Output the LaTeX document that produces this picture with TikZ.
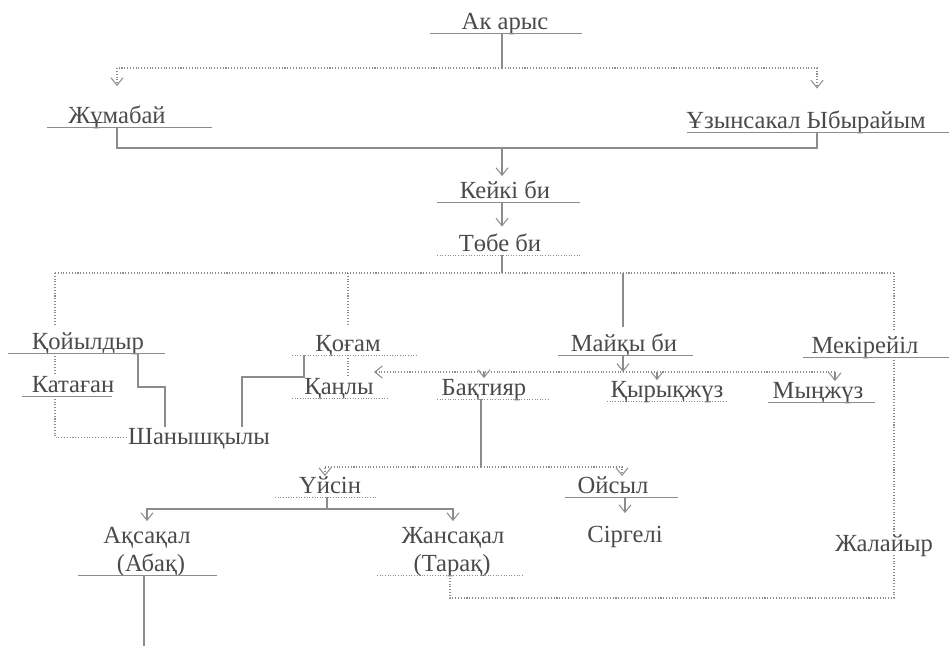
\documentclass[tikz,border=0pt]{standalone}
\usepackage{fontspec}
\setmainfont{Liberation Serif}
\usetikzlibrary{arrows.meta,calc}
\definecolor{ink}{HTML}{4A4A4A}
\definecolor{rule}{HTML}{8C8C8C}
\begin{document}
\begin{tikzpicture}[x=0.02cm, y=-0.02cm,
    clan/.style={anchor=south, inner sep=0pt, text height=9.5pt, text depth=2pt, text=ink, font=\fontsize{14}{17}\selectfont},
    ln/.style={draw=rule, line width=0.6pt},
    dt/.style={draw=rule, line width=0.6pt, densely dotted},
    ul/.style={draw=rule, line width=0.5pt},
    >={Straight Barb[length=1.5mm, width=2.4mm]}]
    \useasboundingbox (0,0) rectangle (949,646);

    \node[clan] (akarys) at (505,33) {Ак арыс};
    \node[clan] (jumabai) at (117,127) {Жұмабай};
    \node[clan] (uzyn) at (806,132) {Ұзынсакал Ыбырайым};
    \node[clan] (keiki) at (505,202) {Кейкі би};
    \node[clan] (tobe) at (500,255) {Төбе би};
    \node[clan] (koiyl) at (88,353) {Қойылдыр};
    \node[clan] (kogam) at (348,355) {Қоғам};
    \node[clan] (maiky) at (624,355) {Майқы би};
    \node[clan] (mekir) at (865,357) {Мекірейіл};
    \node[clan] (katagan) at (73,396) {Катаған};
    \node[clan] (kanly) at (339,398) {Қаңлы};
    \node[clan] (bakt) at (484,399) {Бақтияр};
    \node[clan] (kyryk) at (667,401) {Қырықжүз};
    \node[clan] (mynjuz) at (818,402) {Мыңжүз};
    \node[clan] (shany) at (199,448) {Шанышқылы};
    \node[clan] (uisin) at (330,497) {Үйсін};
    \node[clan] (oisyl) at (613,497) {Ойсыл};
    \node[clan] (aksakal) at (147,547) {Ақсақал};
    \node[clan] (abak) at (151,575) {(Абақ)};
    \node[clan] (jansakal) at (453,547) {Жансақал};
    \node[clan] (tarak) at (452,575) {(Тарақ)};
    \node[clan] (sirgeli) at (625,546) {Сіргелі};
    \node[clan] (jalaiyr) at (884,555) {Жалайыр};

    \draw[ul] ($(akarys.south)+(-75,0)$) -- +(152,0);
    \draw[ul] ($(jumabai.south)+(-70,0)$) -- +(165,0);
    \draw[ul] ($(uzyn.south)+(-119,0)$) -- +(262,0);
    \draw[ul] ($(keiki.south)+(-68,0)$) -- +(143,0);
    \draw[ul, densely dotted] ($(tobe.south)+(-63,0)$) -- +(143,0);
    \draw[ul] ($(koiyl.south)+(-80,0)$) -- +(157,0);
    \draw[ul, densely dotted] ($(kogam.south)+(-56,0)$) -- +(124,0);
    \draw[ul] ($(maiky.south)+(-66,0)$) -- +(135,0);
    \draw[ul] ($(mekir.south)+(-62,0)$) -- +(146,0);
    \draw[ul] ($(katagan.south)+(-51,0)$) -- +(90,0);
    \draw[ul, densely dotted] ($(kanly.south)+(-47,0)$) -- +(95,0);
    \draw[ul, densely dotted] ($(bakt.south)+(-47,0)$) -- +(111,0);
    \draw[ul, densely dotted] ($(kyryk.south)+(-60,0)$) -- +(120,0);
    \draw[ul] ($(mynjuz.south)+(-50,0)$) -- +(107,0);
    \draw[ul, densely dotted] ($(uisin.south)+(-55,0)$) -- +(102,0);
    \draw[ul] ($(oisyl.south)+(-48,0)$) -- +(113,0);
    \draw[ul] ($(abak.south)+(-73,0)$) -- +(139,0);
    \draw[ul, densely dotted] ($(tarak.south)+(-75,0)$) -- +(145,0);

    \coordinate (top) at (502,68);
    \coordinate (join) at (502,148);
    \coordinate (fork) at (502,273);
    \coordinate (left) at (55,273);
    \coordinate (right) at (894,273);
    \coordinate (mid) at (623,372);
    \coordinate (row) at (835,372);
    \coordinate (step1) at (165,387);
    \coordinate (step2) at (242,377);
    \coordinate (kx) at ([xshift=-0.2cm]kyryk.north);
    \coordinate (split) at (481,467);
    \coordinate (split2) at (327,509);
    \coordinate (tail) at (144,646);
    \coordinate (loop) at (450,598);

    \draw[ln] (akarys.south -| top) -- (top);
    \draw[dt, ->, shorten >=0.4cm] (top) -| (jumabai.north);
    \draw[dt, ->, shorten >=0.45cm] (top) -| ([xshift=0.22cm]uzyn.north);
    \draw[ln] (jumabai.south) |- (join) -| ([xshift=0.22cm]uzyn.south);
    \draw[ln, ->, shorten >=0.1cm] (join) -- (join |- keiki.north);
    \draw[ln, ->, shorten >=0.15cm] (keiki.south -| join) -- (join |- tobe.north);

    \draw[ln] (tobe.south -| fork) -- (fork);
    \draw[dt] (left) -- (right);
    \draw[dt, shorten >=0.16cm] (left) -- (left |- koiyl.north);
    \draw[dt, shorten >=0.2cm] (kogam.north |- fork) -- (kogam.north);
    \draw[ln, shorten >=0.15cm] (fork -| mid) -- (mid |- maiky.north);
    \draw[dt, shorten >=0.1cm] (right) -- (right |- mekir.north);

    \draw[dt] (left |- koiyl.south) -- (left |- katagan.north);
    \draw[dt] (left |- katagan.south) |- (shany.west);
    \draw[ln] ([xshift=1cm]koiyl.south) |- (step1) -- (step1 |- shany.north);
    \draw[ln] ([xshift=-0.88cm]kogam.south) |- (step2) -- (step2 |- shany.north);
    \draw[dt] (kogam.south) -- (kogam.south |- kanly.north);

    \draw[ln, ->] (maiky.south -| mid) -- (mid);
    \draw[dt, ->] (row) -- (row -| kanly.north east);
    \draw[ln, ->] (bakt.north |- mid) -- (bakt.north);
    \draw[ln, ->] (kx |- mid) -- (kx);
    \draw[ln, ->] (row) -- (row |- mynjuz.north);

    \draw[ln] (bakt.south -| split) -- (split);
    \draw[dt, ->] (split) -| ([xshift=-0.1cm]uisin.north);
    \draw[dt, ->] (split) -| ([xshift=0.18cm]oisyl.north);
    \draw[ln] (uisin.south -| split2) -- (split2);
    \draw[ln, ->, shorten >=0.1cm] (split2) -| (aksakal.north);
    \draw[ln, ->, shorten >=0.1cm] (split2) -| (jansakal.north);
    \draw[ln, ->, shorten >=0.24cm] (sirgeli.north |- oisyl.south) -- (sirgeli.north);
    \draw[ln] (abak.south -| tail) -- (tail);

    \draw[dt] (right |- mekir.south) -- (right |- jalaiyr.north);
    \draw[dt] (right |- jalaiyr.south) |- (loop) -- (loop |- tarak.south);
\end{tikzpicture}
\end{document}
